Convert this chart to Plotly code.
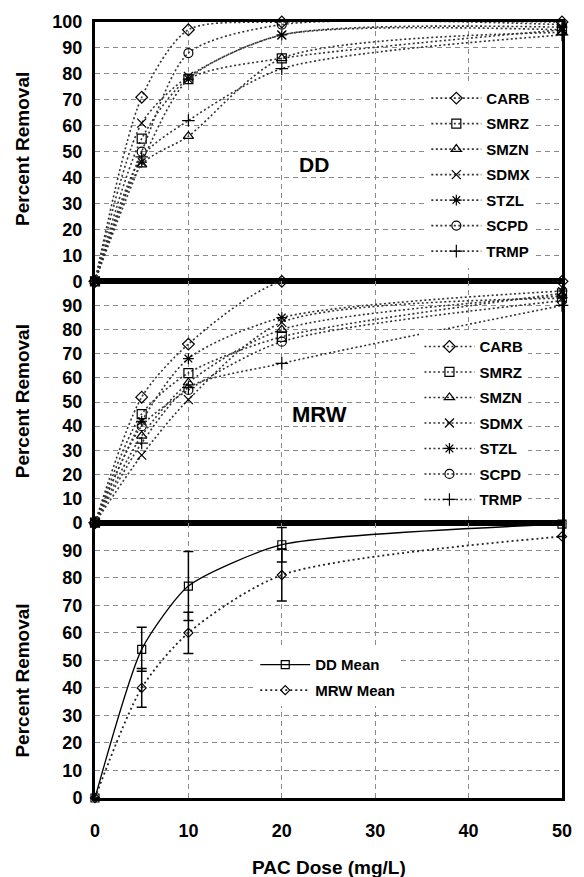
import plotly.graph_objects as go
from plotly.subplots import make_subplots

dose = [0, 5, 10, 20, 50]

carbons = ["CARB", "SMRZ", "SMZN", "SDMX", "STZL", "SCPD", "TRMP"]
symbols = ["diamond-open", "square-open", "triangle-up-open", "x-thin-open",
           "asterisk-open", "circle-open", "cross-thin-open"]

dd_carb = [0, 71, 97, 100, 100]
dd_smrz = [0, 55, 78, 86, 97]
dd_smzn = [0, 45, 56, 86, 96]
dd_sdmx = [0, 61, 79, 95, 97]
dd_stzl = [0, 46, 78, 95, 98]
dd_scpd = [0, 50, 88, 99, 99]
dd_trmp = [0, 48, 62, 82, 95]

mrw_carb = [0, 52, 74, 100, 100]
mrw_smrz = [0, 45, 62, 77, 95]
mrw_smzn = [0, 36, 58, 80, 94]
mrw_sdmx = [0, 28, 51, 83, 93]
mrw_stzl = [0, 42, 68, 85, 96]
mrw_scpd = [0, 40, 55, 75, 92]
mrw_trmp = [0, 33, 56, 66, 90]

dd_mean = [0, 54, 77, 92, 99.5]
dd_err = [None, 8, 12.5, 6.3, None]
mrw_mean = [0, 40, 60, 81, 95]
mrw_err = [None, 7, 7.5, 9.4, None]

dd_series = [dd_carb, dd_smrz, dd_smzn, dd_sdmx, dd_stzl, dd_scpd, dd_trmp]
mrw_series = [mrw_carb, mrw_smrz, mrw_smzn, mrw_sdmx, mrw_stzl, mrw_scpd, mrw_trmp]

FONT = "Liberation Sans"
SMOOTH = 0.75
fig = make_subplots(rows=3, cols=1, shared_xaxes=True, vertical_spacing=0)

for i, (name, sym) in enumerate(zip(carbons, symbols)):
    fig.add_trace(go.Scatter(
        x=dose, y=dd_series[i], name=name, mode="lines+markers",
        line=dict(color="#333", width=1.6, dash="2px,2.5px", shape="spline", smoothing=SMOOTH),
        marker=dict(symbol=sym, size=9, color="black", line=dict(width=1.2, color="black")),
        legend="legend", legendgroup="a" + name, cliponaxis=False,
    ), row=1, col=1)

for i, (name, sym) in enumerate(zip(carbons, symbols)):
    fig.add_trace(go.Scatter(
        x=dose, y=mrw_series[i], name=name, mode="lines+markers",
        line=dict(color="#333", width=1.6, dash="2px,2.5px", shape="spline", smoothing=SMOOTH),
        marker=dict(symbol=sym, size=9, color="black", line=dict(width=1.2, color="black")),
        legend="legend2", legendgroup="b" + name, cliponaxis=False,
    ), row=2, col=1)

fig.add_trace(go.Scatter(
    x=dose, y=dd_mean, name="DD Mean", mode="lines+markers",
    line=dict(color="black", width=1.3, shape="spline", smoothing=0.6),
    marker=dict(symbol="square-open", size=8, color="black", line=dict(width=1.2)),
    error_y=dict(type="data", array=dd_err, visible=True, color="black", thickness=1.5, width=5),
    legend="legend3", legendgroup="c1", cliponaxis=False,
), row=3, col=1)
fig.add_trace(go.Scatter(
    x=dose, y=mrw_mean, name="MRW Mean", mode="lines+markers",
    line=dict(color="#222", width=1.8, dash="2px,3px", shape="spline", smoothing=SMOOTH),
    marker=dict(symbol="diamond-open", size=7, color="black", line=dict(width=1.2)),
    error_y=dict(type="data", array=mrw_err, visible=True, color="black", thickness=1.5, width=5),
    legend="legend3", legendgroup="c2", cliponaxis=False,
), row=3, col=1)

d1 = (798 - 280) / 778
d2 = (798 - 522) / 778
domains = [[d1, 1.0], [d2, d1], [0.0, d2]]

axis_common = dict(
    showline=True, linewidth=3, linecolor="black", mirror=True,
    showgrid=True, gridcolor="#8a8a8a", gridwidth=1, griddash="5px,4px",
    zeroline=False, ticks="",
    tickfont=dict(family=FONT, size=18, color="black", weight="bold"),
)

for r in range(1, 4):
    tv = list(range(0, 101, 10)) if r == 1 else list(range(0, 91, 10))
    fig.update_yaxes(range=[0, 100], tickvals=tv, domain=domains[r - 1],
                     ticklabelstandoff=6, row=r, col=1, **axis_common)
    fig.update_xaxes(range=[0, 50], tickvals=[0, 10, 20, 30, 40, 50], row=r, col=1,
                     ticklabelstandoff=14, **axis_common)

legend_common = dict(
    bgcolor="white", borderwidth=0, itemwidth=50, tracegroupgap=3,
    font=dict(family=FONT, size=15, color="black", weight="bold"),
    xanchor="left", yanchor="top", itemclick=False,
)

fig.update_layout(
    width=584, height=877,
    margin=dict(l=95, r=14, t=20, b=79),
    plot_bgcolor="white", paper_bgcolor="white",
    showlegend=True,
    legend=dict(x=(432 - 95) / 475, y=(798 - 80) / 778, **legend_common),
    legend2=dict(x=(425 - 95) / 475, y=(798 - 329) / 778, **legend_common),
    legend3=dict(x=(258 - 95) / 475, y=(798 - 648) / 778, **legend_common),
)

title_font = dict(family=FONT, size=19, color="black", weight="bold")
for yc in [147, 400, 680]:
    fig.add_annotation(text="Percent Removal", xref="paper", yref="paper",
                       x=(21 - 95) / 475, y=(798 - yc) / 778, textangle=-90,
                       showarrow=False, font=title_font, xanchor="center", yanchor="middle")

fig.add_annotation(text="PAC Dose (mg/L)", xref="paper", yref="paper",
                   x=(333 - 95) / 475, y=(798 - 868) / 778, showarrow=False,
                   font=title_font, xanchor="center", yanchor="middle")

fig.add_annotation(text="DD", x=23.5, y=45, xref="x", yref="y", showarrow=False,
                   font=dict(family=FONT, size=21, color="black", weight="bold"))
fig.add_annotation(text="MRW", x=24, y=45, xref="x2", yref="y2", showarrow=False,
                   font=dict(family=FONT, size=22, color="black", weight="bold"))

fig.write_html("out.html")
